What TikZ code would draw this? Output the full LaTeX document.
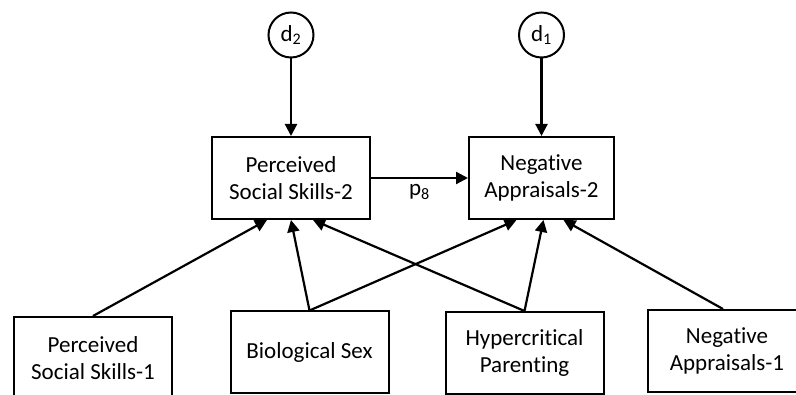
\documentclass[tikz,border=0pt]{standalone}
\usepackage{fontspec}
\setmainfont[Ligatures=NoCommon]{Carlito}
\usetikzlibrary{arrows.meta,positioning}

\begin{document}
\begin{tikzpicture}[x=1pt, y=-1pt, font=\fontsize{23}{27}\selectfont,
  var/.style={draw, line width=2pt, align=center, minimum width=158pt, minimum height=82pt, inner sep=2pt},
  err/.style={draw, circle, line width=2pt, minimum size=45pt, inner sep=0pt},
  path/.style={-{Triangle[length=12pt,width=12pt]}, line width=2.2pt}]
\useasboundingbox (0,0) rectangle (796,395);
% latent outcomes and disturbances
\node[var] (pss2) at (291,178) {Perceived\\Social Skills-2};
\node[var, minimum width=145pt] (na2) at (541.5,178) {Negative\\Appraisals-2};
\node[err] (d2) at (291,35) {d\textsubscript{2}};
\node[err] (d1) at (541.5,35) {d\textsubscript{1}};
% predictors
\node[var] (pss1) at (93,358) {Perceived\\Social Skills-1};
\node[var] (bio) at (309.5,352.5) {Biological Sex};
\node[var] (hyp) at (524.5,353) {Hypercritical\\Parenting};
\node[var] (na1) at (727,351) {Negative\\Appraisals-1};
% paths
\draw[path] (d2) -- (pss2);
\draw[path] (d1) -- (na2);
\draw[path] (pss2.east) -- node[below=2pt] (p8) {p\textsubscript{8}} (na2.west);
\draw[path] (pss1.north) -- ([xshift=-24pt]pss2.south);
\draw[path] (bio.north) -- (pss2.south);
\draw[path] (bio.north) -- ([xshift=-25pt]na2.south);
\draw[path] (hyp.north) -- ([xshift=22pt]pss2.south);
\draw[path] (hyp.north) -- ([xshift=2pt]na2.south);
\draw[path] ([xshift=-4pt]na1.north) -- ([xshift=22pt]na2.south);
\end{tikzpicture}
\end{document}
